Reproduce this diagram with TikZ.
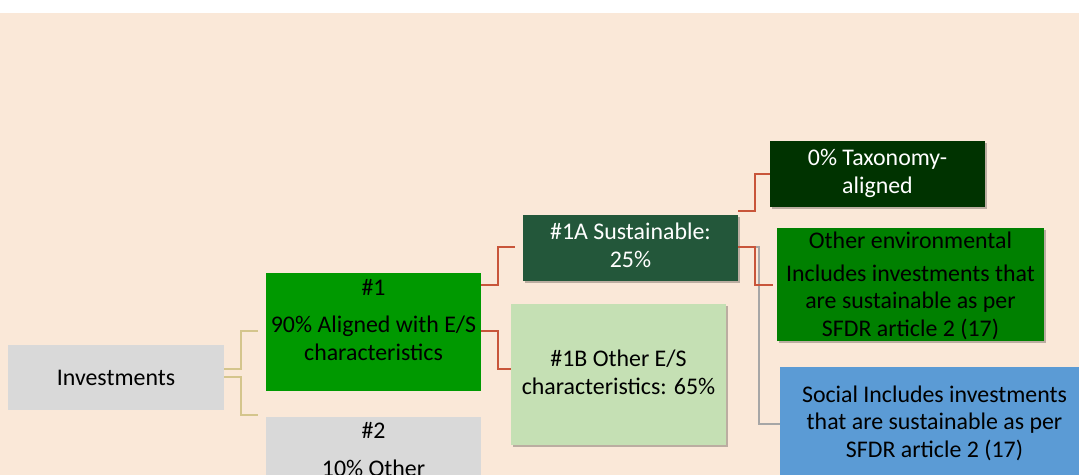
\documentclass[tikz,border=0pt]{standalone}
\usepackage{fontspec}
\setmainfont{Carlito}
\usetikzlibrary{shadows,calc,fit}
\definecolor{bg}{HTML}{FAE8D8}
\definecolor{boxgray}{HTML}{D9D9D9}
\definecolor{g1}{HTML}{009900}
\definecolor{g1a}{HTML}{23573A}
\definecolor{g1b}{HTML}{C5E0B4}
\definecolor{gtax}{HTML}{003300}
\definecolor{genv}{HTML}{008000}
\definecolor{bsoc}{HTML}{5B9BD5}
\definecolor{redline}{HTML}{C8553A}
\definecolor{tanline}{HTML}{D4C58C}
\definecolor{grayline}{HTML}{A6A6A6}
\begin{document}
\begin{tikzpicture}[x=0.75pt,y=-0.75pt,
  box/.style={inner sep=0pt, outer sep=0pt},
  shad/.style={drop shadow={shadow xshift=1.5pt, shadow yshift=-1.5pt, opacity=0.25, fill=black}},
  txt/.style={inner sep=0pt, align=center, font=\fontsize{17.9}{20.3}\selectfont},
  conn/.style={line width=1.5pt},
]
\useasboundingbox (0,0) rectangle (1079,475);
\fill[white] (0,0) rectangle (1079,13);
\fill[bg] (0,13) rectangle (1079,475);

% connector free ends
\coordinate (ct1) at (258,331);
\coordinate (ct2) at (258,415);
\coordinate (cr1) at (515,247);
\coordinate (cr4) at (773,285);

% boxes
\node[box, fill=boxgray, fit={(8,345) (224,410)}] (inv) {};
\node[box, fill=g1, fit={(266,273) (481,391)}] (n1) {};
\node[box, fill=boxgray, fit={(266,417) (481,520)}] (n2) {};
\node[box, fill=g1a, shad, fit={(523,215) (738,281)}] (s1a) {};
\node[box, fill=g1b, shad, fit={(511,304) (726,445)}] (o1b) {};
\node[box, fill=gtax, shad, fit={(770,141) (985,207)}] (tax) {};
\node[box, fill=genv, shad, fit={(777,228) (1044,341)}] (env) {};
\node[box, fill=bsoc, fit={(780,367) (1110,520)}] (soc) {};

% connectors
\draw[conn, tanline] ($(inv.north east)+(0,24)$) -- ++(17,0) |- (ct1);
\draw[conn, tanline] ($(inv.north east)+(0,32)$) -- ++(17,0) |- (ct2);
\draw[conn, redline] ($(n1.north east)+(0,12)$) -- ++(17,0) |- (cr1);
\draw[conn, redline] ($(n1.north east)+(0,58)$) -- ++(17,0) |- ($(o1b.north west)+(0,65)$);
\draw[conn, grayline] ($(s1a.north east)+(0,32)$) -- ++(21,0) |- ($(soc.north west)+(0,57)$);
\draw[conn, redline] ($(s1a.north east)+(0,-4)$) -- ++(17,0) |- (tax.west);
\draw[conn, redline] ($(s1a.north east)+(0,32)$) -- ++(17,0) |- (cr4);

% texts (anchor=base is the baseline of the last line)
\node[txt, anchor=base] (invt) at (116,385) {Investments};
\node[txt, anchor=base] (n1t1) at (373.5,295) {\#1};
\node[txt, anchor=base] (n1t2) at (373.5,360) {90\% Aligned with E/S\\characteristics};
\node[txt, anchor=base] (n2t1) at (373.5,438) {\#2};
\node[txt, anchor=base] (n2t2) at (373.5,476) {10\% Other};
\node[txt, anchor=base, text=white] (s1at) at (630.5,267) {\#1A Sustainable:\\25\%};
\node[txt, anchor=base] (o1bt) at (618.5,394) {\#1B Other E/S\\characteristics: 65\%};
\node[txt, anchor=base, text=white] (taxt) at (877.5,193) {0\% Taxonomy-\\aligned};
\node[txt, anchor=base] (envt1) at (910.5,248) {Other environmental};
\node[txt, anchor=base] (envt2) at (910.5,336) {Includes investments that\\are sustainable as per\\SFDR article 2 (17)};
\node[txt, anchor=base] (soct) at (934.5,457) {Social Includes investments\\that are sustainable as per\\SFDR article 2 (17)};
\end{tikzpicture}
\end{document}
